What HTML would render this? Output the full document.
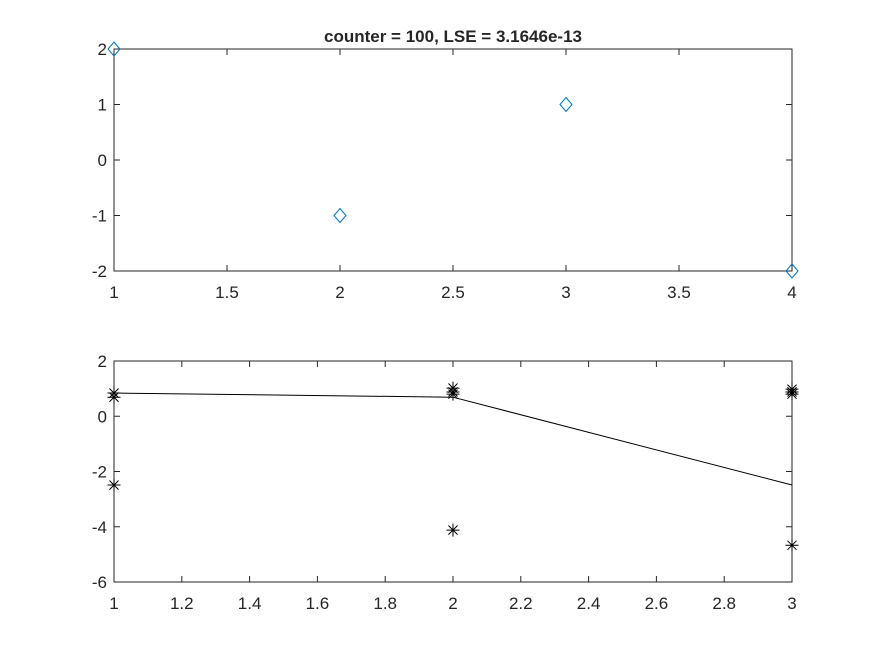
<!DOCTYPE html>
<html><head><meta charset="utf-8"><style>
body{margin:0;background:#fff;}
svg text{font-family:"Liberation Sans",Arial,sans-serif;fill:#262626;}
</style></head><body>
<svg width="875" height="656">
<rect width="875" height="656" fill="#fff"/>
<g id="top"></g>
<g id="bot"></g>
</svg>
<script>
const topX=[1,2,3,4];
const topY=[2,-1,1,-2];
const topXTicks=[1,1.5,2,2.5,3,3.5,4];
const topYTicks=[-2,-1,0,1,2];
const botStarX=[1,1,1,2,2,2,2,3,3,3,3];
const botStarY=[0.84,0.69,-2.49,1.02,0.88,0.8,-4.12,0.98,0.88,0.8,-4.67];
const botLineX=[1,2,3];
const botLineY=[0.84,0.69,-2.49];
const botXTicks=[1,1.2,1.4,1.6,1.8,2,2.2,2.4,2.6,2.8,3];
const botYTicks=[-6,-4,-2,0,2];
const NS='http://www.w3.org/2000/svg';
function el(p,t,a){const e=document.createElementNS(NS,t);for(const k in a)e.setAttribute(k,a[k]);p.appendChild(e);return e;}
function axes(g,L,R,T,B,x0,x1,y0,y1,xt,yt){
 const sx=v=>L+(v-x0)/(x1-x0)*(R-L), sy=v=>B-(v-y0)/(y1-y0)*(B-T);
 const f=el(g,'rect',{x:L,y:T,width:R-L,height:B-T,fill:'none',stroke:'#262626','stroke-width':1});
 
 
 xt.forEach(v=>{const x=sx(v);
  el(g,'line',{x1:x,x2:x,y1:B,y2:B-6,stroke:'#262626'});el(g,'line',{x1:x,x2:x,y1:T,y2:T+6,stroke:'#262626'});
  const t=el(g,'text',{x:x,y:B+27,'text-anchor':'middle','font-size':17});t.textContent=String(v);
  
  });
 yt.forEach(v=>{const y=sy(v);
  el(g,'line',{x1:L,x2:L+6,y1:y,y2:y,stroke:'#262626'});el(g,'line',{x1:R,x2:R-6,y1:y,y2:y,stroke:'#262626'});
  const t=el(g,'text',{x:L-7,y:y+6,'text-anchor':'end','font-size':17});t.textContent=String(v);
  
  });
 return [sx,sy];
}
const tg=document.getElementById('top');
const [tx,ty]=axes(tg,114,792,49,271,1,4,-2,2,topXTicks,topYTicks);
const ti=el(tg,'text',{x:453,y:42,'text-anchor':'middle','font-size':17,'font-weight':'bold'});ti.textContent='counter = 100, LSE = 3.1646e-13';


topX.forEach((v,i)=>{const x=tx(v),y=ty(topY[i]);
 const d=el(tg,'polygon',{points:`${x},${y-7} ${x+6},${y} ${x},${y+7} ${x-6},${y}`,fill:'none',stroke:'#0072BD','stroke-width':1});
 
 });
const bg=document.getElementById('bot');
const [bx,by]=axes(bg,114,792,361,582,1,3,-6,2,botXTicks,botYTicks);
const ln=el(bg,'polyline',{points:botLineX.map((v,i)=>bx(v)+','+by(botLineY[i])).join(' '),fill:'none',stroke:'#000','stroke-width':1});


botStarX.forEach((v,i)=>{const x=bx(v),y=by(botStarY[i]),r=6.5;
 const s=el(bg,'path',{d:`M${x-r},${y}H${x+r}M${x-r*0.7},${y-r*0.7}L${x+r*0.7},${y+r*0.7}M${x-r*0.7},${y+r*0.7}L${x+r*0.7},${y-r*0.7}M${x},${y-r}V${y+r}`,stroke:'#000','stroke-width':1,fill:'none'});
 
 });
</script>
</body></html>
